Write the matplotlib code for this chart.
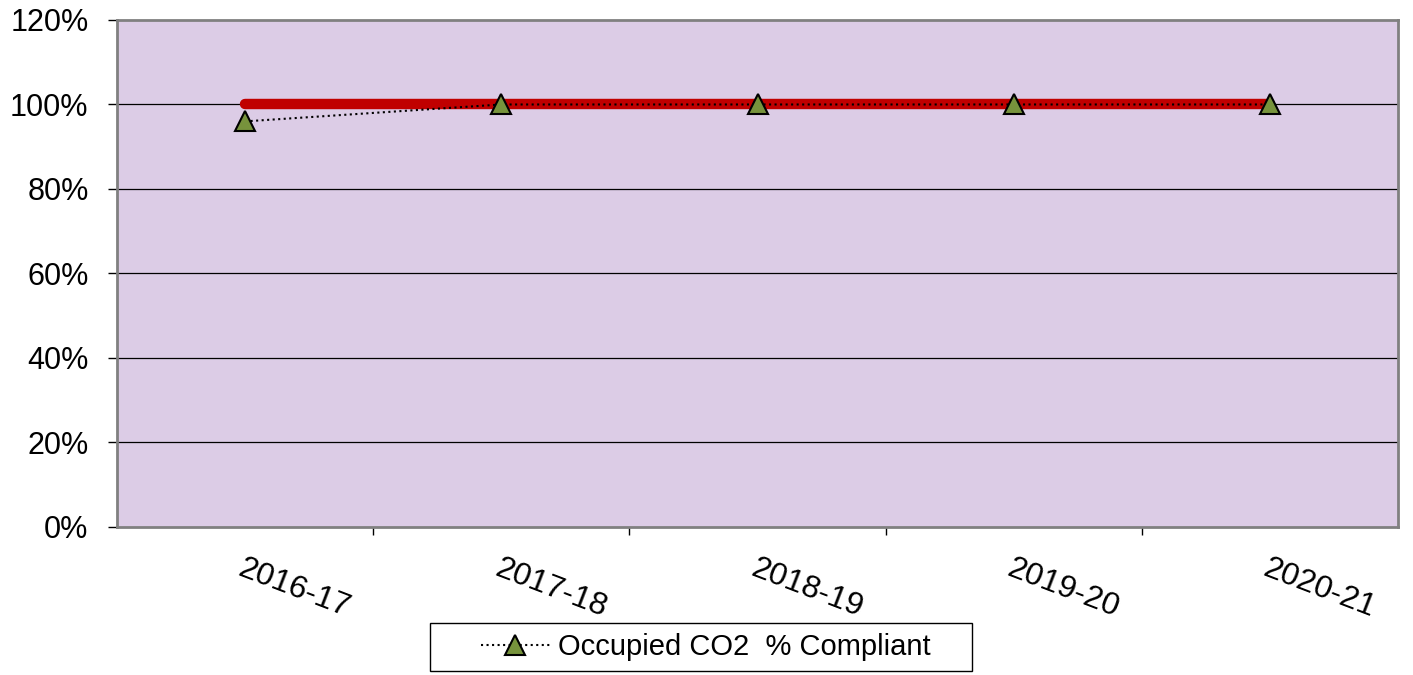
import numpy as np
import matplotlib.pyplot as plt
from matplotlib.patches import Rectangle
from matplotlib.ticker import FixedLocator, PercentFormatter

plt.rcParams['font.family'] = ['Liberation Sans', 'DejaVu Sans']

# data
years = ['2016-17', '2017-18', '2018-19', '2019-20', '2020-21']
compliant = [96, 100, 100, 100, 100]
target = [100, 100, 100, 100, 100]
y_ticks = [0, 20, 40, 60, 80, 100, 120]

x = np.arange(len(years))

fig = plt.figure(figsize=(14.13, 6.75), dpi=100)
ax = fig.add_axes([0.0828, 0.2193, 0.9066, 0.7511])
ax.set_facecolor('#DCCCE6')

for yv in y_ticks[1:-1]:
    ax.axhline(yv, color='black', lw=0.9, zorder=1)

# target line (not in legend)
ax.plot(x, target, color='#C00000', lw=7.5, solid_capstyle='round', zorder=2)
# actual compliance
ax.plot(x, compliant, color='black', ls=':', lw=1.5, marker='^', markersize=14,
        markerfacecolor='#77933C', markeredgecolor='black', markeredgewidth=1.5,
        label='Occupied CO2  % Compliant', zorder=3)

ax.set_xlim(-0.5, len(years) - 0.5)
ax.set_ylim(0, 120)
ax.set_yticks(y_ticks)
ax.yaxis.set_major_formatter(PercentFormatter(decimals=0))
ax.tick_params(axis='y', labelsize=22, length=6.5, width=1, pad=14)

ax.set_xticks(x)
ax.set_xticklabels(years, rotation=-21, ha='left', va='top', rotation_mode='anchor')
ax.xaxis.set_minor_locator(FixedLocator(np.arange(0.5, len(years) - 1, 1)))
ax.tick_params(axis='x', which='major', length=0, labelsize=23, pad=19)
ax.tick_params(axis='x', which='minor', length=6, width=1)

for s in ax.spines.values():
    s.set_color('#808080')
    s.set_linewidth(2)

# legend: frame drawn separately to get Excel-like wide padding
leg = fig.legend(loc='center', bbox_to_anchor=(706 / 1413, 1 - 647 / 675), fontsize=21,
                 frameon=False, handlelength=2.35, handletextpad=0.3,
                 borderpad=0.3)
fig.add_artist(Rectangle((430 / 1413, 4 / 675), 542 / 1413, 48 / 675,
                         transform=fig.transFigure, fill=False,
                         edgecolor='black', lw=1))

fig.savefig('out.png', dpi=100)
